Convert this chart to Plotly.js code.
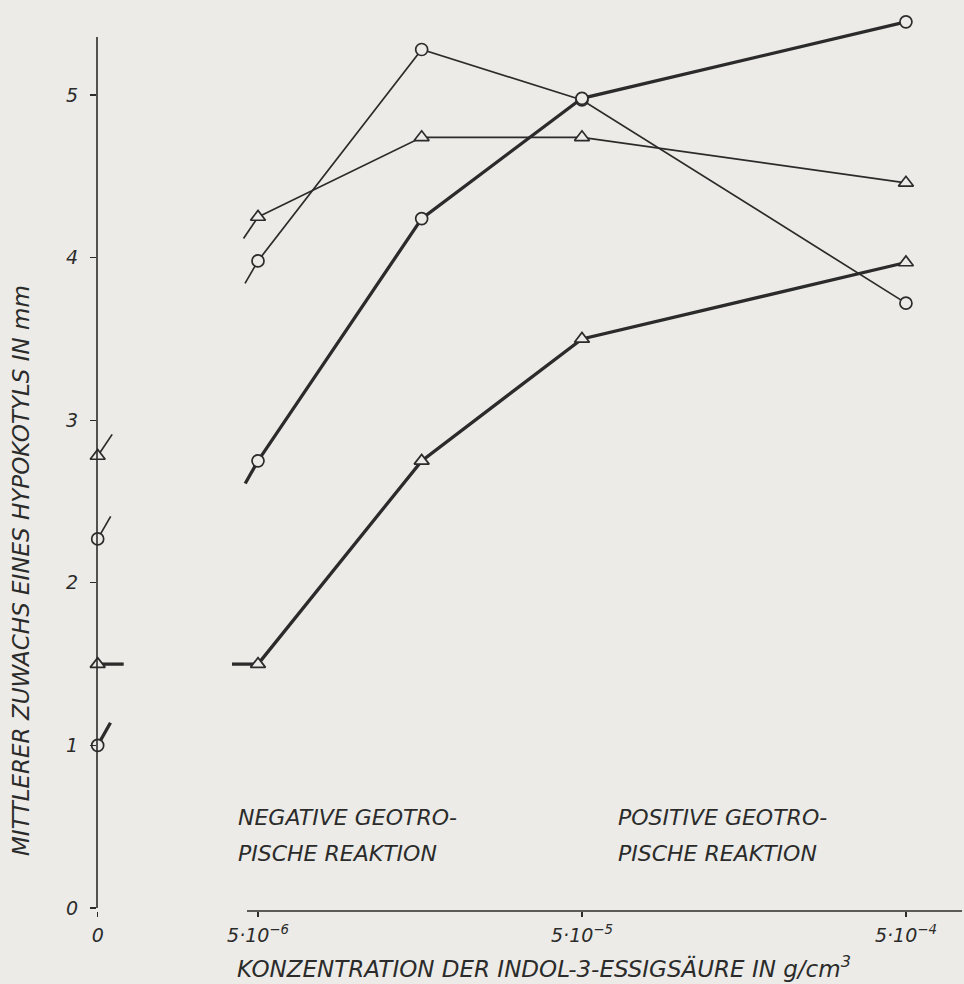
<!DOCTYPE html>
<html>
<head>
<meta charset="utf-8">
<script src="https://cdn.plot.ly/plotly-3.0.1.min.js"></script>
<style>
  html, body { margin: 0; padding: 0; background: #ecebe7; }
  #chart { width: 964px; height: 984px; }
</style>
</head>
<body>
<div id="chart"></div>
<script>
// ---- data ----
const concentrations = [5e-6, 1.6e-5, 5e-5, 5e-4];   // g/cm3
const zeroPosition = 1.6e-6;                          // where the "0" concentration is drawn
const dividerConc = [2.83e-5];                        // boundary negative / positive reaction

const circleThin      = [3.98, 5.28, 4.97, 3.72];
const circleThinZero  = 2.27;
const triangleThin    = [4.25, 4.74, 4.74, 4.46];
const triangleThinZero = 2.78;
const circleThick     = [2.75, 4.24, 4.98, 5.45];
const circleThickZero = 1.0;
const triangleThick   = [1.5, 2.75, 3.5, 3.97];
const triangleThickZero = 1.5;

const xTickVals = [zeroPosition, 5e-6, 5e-5, 5e-4];
const xTickText = ['0', '5·10<sup>−6</sup>', '5·10<sup>−5</sup>', '5·10<sup>−4</sup>'];
const yTickVals = [0, 1, 2, 3, 4, 5];
const yTickText = ['0', '1', '2', '3', '4', '5'];

// ---- layout geometry ----
const W = 964, H = 984;
const M = {l: 97, r: 2, t: 10, b: 73};
const xRange = [-5.798, -3.128];
const yRange = [-0.0185, 5.523];
const plotW = W - M.l - M.r, plotH = H - M.t - M.b;
const pxPerDecade = plotW / (xRange[1] - xRange[0]);
const pxPerUnit = plotH / (yRange[1] - yRange[0]);

const ink = '#2b2b2b';
const bg = '#ecebe7';
const FONT = 'DejaVu Sans, Liberation Sans, sans-serif';
const thin = 1.7, thick = 3.3;

const series = [
  {y: circleThin, y0: circleThinZero, w: thin, sym: 'circle', size: 12},
  {y: triangleThin, y0: triangleThinZero, w: thin, sym: 'triangle-up', size: 13},
  {y: circleThick, y0: circleThickZero, w: thick, sym: 'circle', size: 12},
  {y: triangleThick, y0: triangleThickZero, w: thick, sym: 'triangle-up', size: 13}
];

const STUB = 26; // px, broken-line stubs between the "0" point and the first concentration
const lineTraces = [], markerTraces = [];
series.forEach(s => {
  lineTraces.push({
    x: concentrations, y: s.y, mode: 'lines', type: 'scatter',
    line: {color: ink, width: s.w}, hoverinfo: 'skip', cliponaxis: false
  });
  const lx0 = Math.log10(zeroPosition), lx1 = Math.log10(concentrations[0]);
  const dx = (lx1 - lx0) * pxPerDecade, dy = (s.y[0] - s.y0) * pxPerUnit;
  const len = Math.hypot(dx, dy);
  const ddx = STUB * dx / len / pxPerDecade, ddy = STUB * dy / len / pxPerUnit;
  lineTraces.push({
    x: [zeroPosition, Math.pow(10, lx0 + ddx)], y: [s.y0, s.y0 + ddy],
    mode: 'lines', type: 'scatter', line: {color: ink, width: s.w}, hoverinfo: 'skip', cliponaxis: false
  });
  lineTraces.push({
    x: [Math.pow(10, lx1 - ddx), concentrations[0]], y: [s.y[0] - ddy, s.y[0]],
    mode: 'lines', type: 'scatter', line: {color: ink, width: s.w}, hoverinfo: 'skip', cliponaxis: false
  });
  markerTraces.push({
    x: [zeroPosition].concat(concentrations), y: [s.y0].concat(s.y),
    mode: 'markers', type: 'scatter', cliponaxis: false,
    marker: {symbol: s.sym, size: s.size, color: bg, line: {color: ink, width: 1.7}}
  });
});

const textFont = {family: FONT, size: 22, color: ink, style: 'italic'};
const titleFont = {family: FONT, size: 23, color: ink, style: 'italic'};
const tickFont = {family: FONT, size: 19, color: ink, style: 'italic'};
const px2paperX = p => (p - M.l) / plotW;
const px2paperY = p => (H - M.b - p) / plotH;

const layout = {
  width: W, height: H,
  margin: M,
  paper_bgcolor: bg, plot_bgcolor: 'rgba(0,0,0,0)',
  showlegend: false,
  xaxis: {
    type: 'log', range: xRange, showgrid: false, zeroline: false, showline: false,
    tickvals: xTickVals, ticktext: xTickText, ticks: 'outside', ticklen: 5, tickwidth: 1.3,
    tickcolor: ink, tickfont: tickFont, ticklabelstandoff: 2
  },
  yaxis: {
    range: yRange, showgrid: false, zeroline: false, showline: false,
    tickvals: yTickVals, ticktext: yTickText, ticks: 'outside', ticklen: 6, tickwidth: 1.3,
    tickcolor: ink, tickfont: tickFont, ticklabelstandoff: 8
  },
  shapes: [
    {type: 'line', xref: 'paper', yref: 'paper', x0: px2paperX(247), x1: 1, y0: 0, y1: 0,
     line: {color: ink, width: 1.6}},
    {type: 'line', xref: 'paper', yref: 'paper', x0: 0, x1: 0, y0: px2paperY(908), y1: px2paperY(37),
     line: {color: ink, width: 1.6}},
    {type: 'line', xref: 'x', yref: 'paper', x0: Math.log10(dividerConc[0]), x1: Math.log10(dividerConc[0]),
     y0: 0, y1: px2paperY(32), line: {color: ink, width: 1.6}}
  ],
  annotations: [
    {text: 'NEGATIVE GEOTRO-', xref: 'paper', yref: 'paper', x: px2paperX(236), y: px2paperY(817),
     xanchor: 'left', yanchor: 'middle', showarrow: false, font: textFont},
    {text: 'PISCHE REAKTION', xref: 'paper', yref: 'paper', x: px2paperX(236), y: px2paperY(853),
     xanchor: 'left', yanchor: 'middle', showarrow: false, font: textFont},
    {text: 'POSITIVE GEOTRO-', xref: 'paper', yref: 'paper', x: px2paperX(616), y: px2paperY(817),
     xanchor: 'left', yanchor: 'middle', showarrow: false, font: textFont},
    {text: 'PISCHE REAKTION', xref: 'paper', yref: 'paper', x: px2paperX(616), y: px2paperY(853),
     xanchor: 'left', yanchor: 'middle', showarrow: false, font: textFont},
    {text: 'KONZENTRATION DER INDOL-3-ESSIGSÄURE IN g/cm<sup>3</sup>', xref: 'paper', yref: 'paper',
     x: px2paperX(544), y: px2paperY(967), xanchor: 'center', yanchor: 'middle', showarrow: false, font: titleFont},
    {text: 'MITTLERER ZUWACHS EINES HYPOKOTYLS IN mm', xref: 'paper', yref: 'paper',
     x: px2paperX(21), y: px2paperY(571), xanchor: 'center', yanchor: 'middle', textangle: -90,
     showarrow: false, font: titleFont}
  ]
};

Plotly.newPlot('chart', lineTraces.concat(markerTraces), layout, {staticPlot: true, displayModeBar: false});
</script>
</body>
</html>
